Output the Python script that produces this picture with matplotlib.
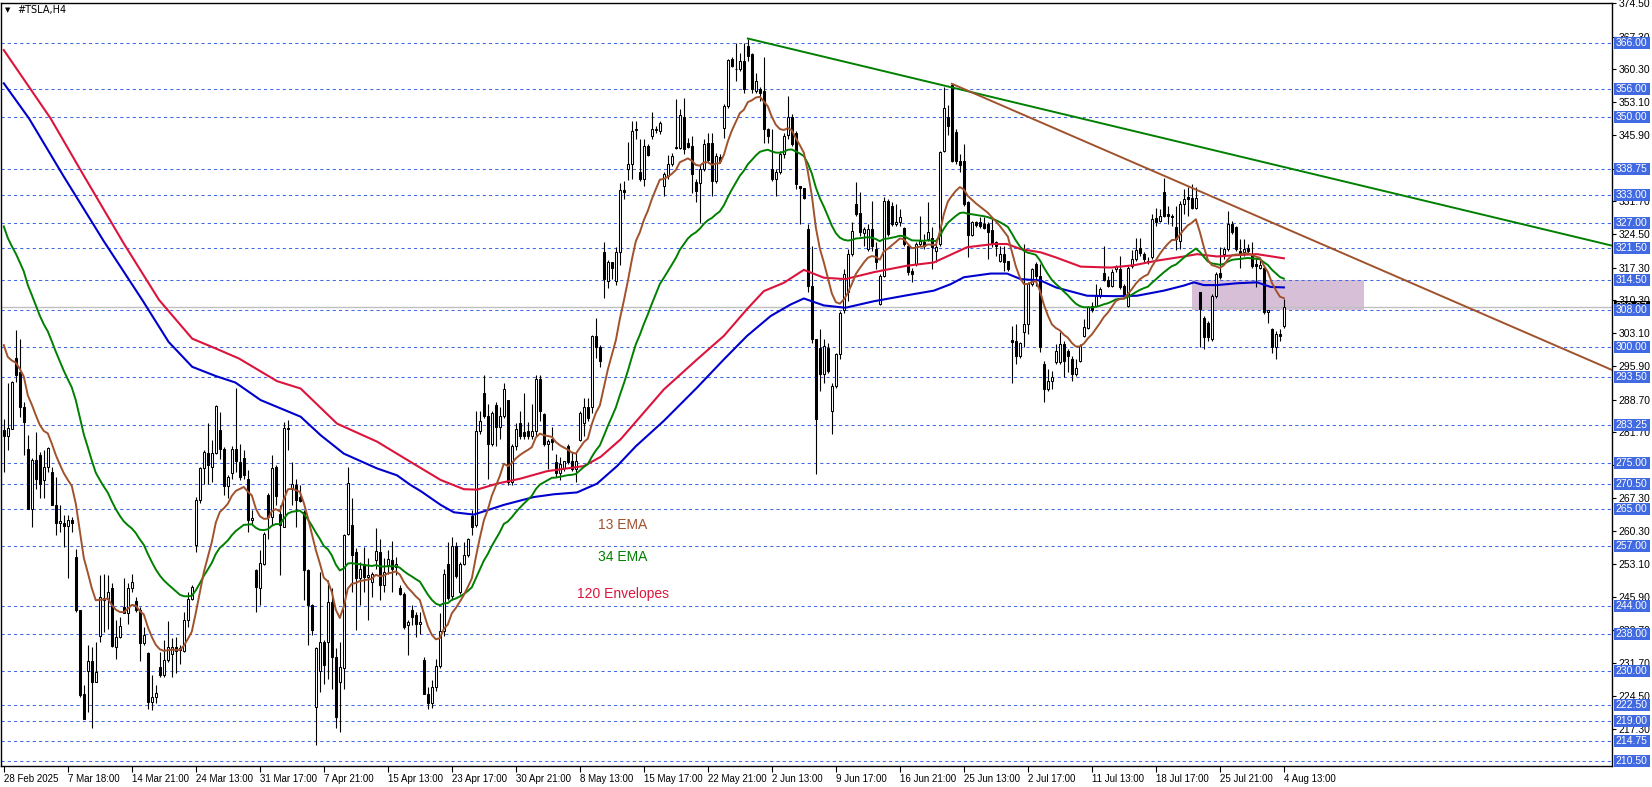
import numpy as np
import matplotlib
matplotlib.use("Agg")
import matplotlib.pyplot as plt
from matplotlib.patches import Rectangle
from matplotlib.transforms import blended_transform_factory

plt.rcParams['font.family'] = 'DejaVu Sans'

# ---- H4 candles, #TSLA (bar index 0 = 28 Feb 2025) ----
open_ = [
    282.1, 280.9, 282.4, 297.8, 294.6, 287.1, 278.1, 265.1, 275.6, 276.8,
    271.2, 274.1, 273.1, 265.8, 261.9, 261.9, 261.3, 262.7, 254.6, 243.1,
    225.0, 230.0, 232.1, 227.6, 237.5, 245.3, 245.6, 247.9, 235.2, 237.3,
    243.8, 242.4, 247.9, 245.0, 243.1, 236.0, 233.9, 223.2, 224.3, 230.8,
    229.0, 232.3, 233.5, 235.2, 234.9, 234.2, 240.9, 245.6, 257.2, 266.9,
    273.8, 277.2, 274.1, 277.2, 282.2, 278.1, 270.0, 272.7, 278.1, 275.1,
    276.1, 271.6, 262.6, 251.8, 247.9, 253.2, 268.1, 263.3, 274.1, 264.0,
    261.1, 282.4, 269.4, 270.3, 267.6, 264.4, 251.8, 244.2, 222.1, 229.9,
    236.2, 236.2, 244.9, 233.0, 227.6, 230.6, 259.7, 261.5, 255.7, 250.0,
    253.2, 250.3, 249.1, 253.9, 255.7, 248.5, 252.8, 253.9, 252.5, 247.9,
    246.7, 239.8, 243.1, 242.0, 240.1, 232.3, 225.0, 223.0, 226.5, 231.0,
    238.5, 253.1, 246.2, 257.0, 247.0, 253.1, 255.1, 263.5, 261.6, 282.0,
    290.1, 285.1, 279.0, 287.6, 282.8, 285.1, 288.6, 270.9, 278.6, 283.6,
    281.7, 281.8, 280.9, 282.0, 293.2, 285.5, 279.0, 280.1, 275.1, 272.8,
    273.9, 278.6, 275.3, 273.6, 280.0, 283.6, 287.2, 287.0, 302.5, 300.2,
    320.6, 314.4, 318.5, 314.4, 320.6, 334.0, 338.7, 339.8, 347.0, 337.9,
    336.4, 343.6, 345.8, 347.1, 346.9, 335.0, 337.1, 339.7, 343.5, 343.3,
    350.0, 344.3, 343.6, 335.8, 335.7, 338.6, 344.3, 344.3, 336.1, 341.3,
    347.6, 352.3, 362.4, 360.4, 360.2, 362.0, 365.3, 363.5, 355.5, 355.9,
    355.5, 347.4, 338.7, 336.4, 337.9, 341.8, 345.9, 350.0, 346.5, 335.0,
    334.6, 325.6, 313.3, 301.8, 299.9, 294.2, 299.9, 286.2, 291.6, 298.5,
    308.0, 312.0, 320.2, 331.1, 329.1, 324.8, 321.3, 325.6, 321.3, 309.4,
    315.5, 331.8, 330.7, 326.7, 327.1, 325.8, 322.0, 316.6, 318.1, 322.4,
    322.8, 323.5, 323.8, 320.9, 322.4, 342.6, 349.8, 356.8, 346.7, 340.4,
    340.4, 331.4, 324.4, 327.1, 327.1, 326.7, 326.7, 325.4, 322.8, 318.8,
    320.2, 318.8, 301.7, 301.5, 298.2, 303.3, 305.1, 313.7, 318.1, 315.5,
    296.5, 291.0, 292.8, 296.8, 296.8, 300.7, 299.3, 297.5, 294.2, 297.1,
    302.5, 304.3, 309.0, 309.0, 311.2, 316.1, 314.7, 313.2, 317.0, 317.0,
    313.4, 309.0, 317.7, 319.1, 321.5, 320.2, 318.8, 319.5, 328.0, 327.4,
    333.6, 328.9, 328.5, 326.0, 323.1, 331.1, 332.5, 332.3, 330.1, 311.9,
    306.3, 305.4, 301.8, 311.2, 316.1, 320.2, 321.3, 326.7, 326.0, 320.9,
    320.6, 321.5, 320.2, 318.1, 317.3, 317.3, 307.6, 304.0, 300.0, 302.9,
    304.7,
]
high = [
    284.6, 292.2, 292.7, 303.7, 301.9, 288.2, 281.0, 276.0, 281.7, 277.4,
    277.7, 278.5, 274.1, 272.0, 265.8, 263.7, 263.7, 263.3, 256.4, 243.2,
    226.8, 235.5, 235.2, 236.2, 250.8, 251.0, 250.7, 248.9, 240.9, 241.6,
    250.0, 248.9, 251.0, 246.0, 243.8, 239.5, 234.1, 229.0, 227.0, 234.1,
    236.6, 240.7, 237.0, 237.3, 235.5, 242.7, 247.1, 248.5, 267.5, 274.1,
    277.7, 283.7, 279.9, 287.5, 286.0, 278.5, 272.3, 278.7, 291.2, 279.0,
    277.7, 273.4, 264.7, 252.1, 256.1, 260.1, 268.4, 276.7, 274.5, 265.8,
    283.9, 284.2, 275.2, 271.6, 270.2, 264.7, 252.1, 244.5, 235.1, 251.4,
    236.6, 249.6, 247.8, 234.8, 236.2, 259.7, 274.1, 267.3, 256.5, 253.6,
    256.8, 254.3, 251.4, 260.8, 258.6, 254.3, 256.1, 258.0, 254.6, 248.5,
    247.1, 240.9, 244.2, 242.7, 242.7, 233.0, 226.5, 228.0, 232.5, 242.4,
    252.0, 257.8, 258.9, 257.8, 253.5, 257.8, 258.7, 264.7, 286.3, 286.3,
    294.0, 287.8, 286.3, 288.2, 287.0, 292.4, 288.6, 279.0, 283.6, 286.3,
    290.1, 283.9, 287.8, 294.0, 294.0, 285.9, 280.1, 282.8, 277.0, 276.3,
    275.5, 279.0, 277.4, 277.4, 286.3, 289.0, 289.0, 302.8, 306.3, 300.5,
    322.9, 319.0, 318.6, 321.7, 335.6, 336.0, 344.4, 349.1, 349.0, 345.1,
    345.1, 344.0, 350.9, 348.0, 349.0, 337.9, 341.6, 342.2, 353.7, 351.6,
    354.1, 345.4, 345.8, 336.4, 339.7, 345.1, 346.5, 346.5, 342.2, 341.8,
    352.7, 362.5, 362.8, 366.0, 363.8, 366.0, 366.9, 363.8, 359.5, 356.3,
    362.8, 347.6, 347.2, 338.6, 342.5, 346.5, 354.5, 350.5, 346.9, 335.0,
    334.6, 326.7, 322.0, 301.8, 303.9, 301.8, 301.0, 292.4, 298.9, 307.9,
    317.0, 321.3, 327.1, 335.8, 333.6, 326.0, 326.7, 331.8, 322.8, 315.9,
    332.5, 332.1, 331.4, 331.1, 330.0, 326.0, 322.4, 317.3, 322.8, 328.5,
    324.6, 331.4, 326.0, 322.8, 342.6, 356.3, 352.4, 357.1, 347.3, 342.0,
    344.1, 331.8, 327.4, 327.4, 328.2, 328.2, 327.1, 327.8, 323.1, 322.0,
    322.0, 318.8, 304.7, 305.1, 301.1, 322.4, 314.1, 317.3, 318.4, 318.1,
    297.0, 295.3, 295.0, 300.7, 303.3, 301.4, 299.6, 298.2, 297.5, 300.7,
    306.1, 309.0, 309.8, 313.7, 313.0, 321.9, 315.5, 317.0, 317.8, 319.9,
    313.7, 317.7, 321.0, 323.8, 323.8, 320.6, 319.5, 328.9, 330.1, 330.0,
    336.8, 330.7, 328.9, 330.7, 331.8, 334.3, 334.7, 335.4, 334.7, 311.9,
    306.9, 305.8, 311.6, 316.3, 321.7, 321.7, 329.6, 327.4, 326.4, 323.5,
    323.5, 322.4, 322.8, 319.1, 319.1, 317.7, 308.0, 304.3, 303.6, 304.0,
    310.5,
]
low = [
    273.1, 277.7, 282.3, 292.5, 285.0, 276.7, 265.1, 261.1, 269.4, 267.3,
    267.3, 273.1, 265.8, 259.3, 260.1, 256.8, 250.1, 260.1, 242.7, 224.3,
    219.5, 221.1, 217.5, 227.6, 236.2, 238.4, 239.1, 235.2, 232.6, 237.0,
    242.4, 240.2, 247.1, 242.7, 232.0, 235.5, 221.8, 221.4, 222.9, 228.7,
    228.7, 231.8, 228.7, 229.4, 231.4, 234.1, 239.5, 245.3, 255.7, 266.4,
    270.5, 270.5, 270.9, 277.0, 275.9, 268.0, 267.3, 271.6, 273.1, 271.2,
    271.6, 260.1, 261.5, 242.7, 244.2, 252.8, 258.6, 261.5, 265.8, 250.7,
    261.1, 277.7, 265.8, 261.1, 266.6, 245.3, 235.5, 237.7, 213.8, 225.4,
    227.2, 228.3, 226.1, 217.5, 216.7, 226.1, 259.3, 247.1, 238.8, 244.2,
    247.1, 240.9, 246.0, 252.1, 245.3, 247.1, 251.0, 247.1, 250.7, 246.3,
    239.1, 233.3, 239.8, 237.3, 238.0, 225.0, 221.8, 222.0, 225.5, 230.5,
    237.5, 245.4, 245.4, 250.1, 246.6, 252.8, 254.7, 259.3, 261.2, 281.3,
    284.7, 271.6, 278.6, 278.6, 280.1, 284.7, 270.1, 270.1, 277.8, 280.1,
    280.1, 280.1, 280.1, 280.9, 284.0, 278.6, 273.6, 277.8, 272.0, 271.3,
    273.2, 274.7, 273.2, 270.9, 279.7, 280.9, 284.0, 285.9, 297.8, 295.7,
    310.8, 312.9, 314.8, 313.6, 317.9, 332.1, 336.2, 336.5, 345.1, 336.1,
    335.0, 341.5, 345.1, 346.5, 346.2, 332.8, 336.4, 339.3, 342.9, 342.9,
    341.8, 343.3, 333.5, 331.4, 327.0, 338.2, 340.0, 332.8, 335.7, 340.0,
    345.4, 351.9, 360.8, 357.7, 359.9, 355.2, 362.0, 355.2, 355.2, 353.4,
    344.3, 344.3, 336.1, 332.8, 337.5, 341.1, 345.1, 343.6, 334.3, 326.7,
    332.1, 311.9, 301.0, 272.5, 290.6, 292.4, 294.5, 281.2, 291.3, 297.4,
    307.5, 310.1, 319.9, 328.5, 324.2, 322.0, 320.9, 320.9, 317.0, 309.2,
    315.2, 324.2, 326.4, 326.4, 326.4, 322.0, 315.7, 314.1, 317.7, 322.0,
    321.3, 323.1, 317.0, 318.4, 322.0, 342.3, 345.9, 340.1, 339.7, 338.0,
    330.7, 319.5, 324.2, 326.0, 325.8, 325.6, 319.1, 321.7, 319.9, 318.4,
    316.6, 316.6, 292.4, 296.4, 297.8, 300.0, 302.9, 313.4, 313.4, 299.0,
    288.1, 290.6, 291.0, 296.4, 296.4, 293.5, 294.6, 292.8, 293.9, 296.8,
    302.2, 304.0, 307.6, 308.7, 310.8, 314.4, 313.0, 313.0, 316.3, 312.6,
    310.8, 308.7, 317.3, 318.8, 319.9, 318.3, 318.1, 319.1, 326.4, 327.1,
    328.2, 326.7, 326.4, 321.0, 321.3, 328.9, 328.5, 330.0, 330.0, 300.0,
    299.6, 301.4, 301.4, 310.8, 314.8, 319.1, 320.9, 324.6, 320.9, 317.3,
    319.9, 320.2, 317.3, 313.0, 317.0, 307.2, 305.4, 298.9, 297.5, 301.4,
    304.3,
]
close = [
    280.9, 282.6, 292.5, 294.0, 287.1, 283.9, 265.1, 275.6, 271.6, 270.5,
    274.1, 278.3, 265.8, 261.9, 262.4, 261.4, 262.7, 261.9, 243.1, 224.7,
    219.6, 232.1, 227.6, 229.6, 246.0, 245.8, 247.1, 235.4, 237.3, 239.7,
    242.4, 247.9, 249.2, 243.1, 236.0, 237.7, 223.2, 224.3, 225.2, 229.0,
    232.3, 235.2, 235.2, 234.2, 234.4, 240.9, 245.6, 248.1, 266.9, 273.8,
    277.4, 274.5, 277.2, 287.3, 278.1, 270.0, 272.0, 278.1, 275.4, 272.0,
    272.3, 262.6, 263.1, 248.1, 253.4, 259.5, 263.3, 273.9, 267.9, 261.5,
    282.6, 282.3, 270.5, 266.9, 266.7, 251.8, 244.2, 238.8, 234.8, 236.1,
    231.2, 244.9, 233.0, 220.0, 230.8, 259.3, 270.7, 255.0, 250.0, 252.1,
    250.3, 250.7, 251.0, 255.9, 248.5, 251.4, 254.1, 252.1, 253.2, 246.7,
    239.5, 240.6, 241.6, 240.2, 240.6, 225.0, 223.0, 226.5, 231.0, 238.5,
    251.0, 245.8, 257.0, 250.4, 253.1, 255.1, 258.5, 261.2, 282.0, 284.0,
    285.1, 279.0, 285.9, 282.8, 285.1, 290.9, 270.9, 278.6, 282.4, 280.9,
    280.9, 280.9, 282.0, 293.2, 286.3, 279.0, 279.7, 279.5, 272.8, 274.7,
    275.3, 275.1, 273.6, 275.5, 285.7, 287.0, 284.7, 302.5, 300.2, 297.1,
    314.8, 318.5, 317.2, 320.6, 334.0, 333.7, 339.8, 346.9, 347.2, 336.4,
    343.6, 341.6, 347.2, 347.2, 348.7, 337.5, 339.7, 341.5, 343.3, 350.3,
    342.9, 343.5, 337.5, 333.9, 338.6, 344.0, 340.6, 336.1, 341.5, 340.4,
    352.3, 362.3, 361.0, 360.2, 362.0, 355.9, 363.1, 355.9, 357.7, 355.2,
    347.2, 345.8, 336.4, 337.9, 341.8, 345.8, 350.0, 344.0, 335.3, 334.6,
    332.4, 313.3, 301.8, 284.4, 294.2, 300.3, 294.9, 291.6, 298.5, 307.5,
    316.0, 320.2, 325.3, 328.9, 324.9, 325.6, 325.6, 322.0, 318.4, 315.5,
    331.8, 324.6, 326.7, 327.1, 328.2, 322.4, 316.3, 315.9, 322.4, 323.1,
    322.0, 325.1, 321.7, 321.7, 342.3, 351.8, 348.0, 340.4, 340.4, 339.5,
    331.1, 324.4, 327.1, 326.5, 326.4, 325.8, 325.1, 322.4, 322.0, 320.2,
    318.4, 317.0, 301.2, 298.2, 301.0, 305.1, 313.7, 317.0, 315.5, 300.0,
    291.0, 292.8, 293.5, 299.3, 300.7, 297.1, 298.2, 294.2, 295.5, 300.4,
    304.5, 308.7, 308.0, 311.2, 312.6, 314.7, 313.2, 316.3, 317.7, 313.0,
    311.2, 317.3, 319.1, 321.0, 320.4, 319.1, 318.4, 327.8, 327.1, 328.5,
    328.5, 328.4, 328.2, 323.5, 331.1, 332.1, 332.1, 330.3, 332.3, 308.3,
    302.2, 302.2, 311.2, 315.9, 315.2, 321.3, 326.7, 325.1, 321.3, 320.2,
    321.3, 320.9, 317.7, 317.7, 317.8, 307.6, 308.0, 300.0, 302.9, 302.5,
    308.7,
]

# EMA values on the first bar
ema13_start = 300.5
ema34_start = 326.2

# 120 envelopes at these bars
env_up_x = [0, 11.7, 20, 30, 38.8, 47.1, 52.9, 58.8, 68.3, 74.2, 83.3, 93.3, 101.7,
            109.2, 115.0, 118.3, 123.3, 129.2, 135.8, 140.8, 145, 149.2, 154.2, 165,
            173.3, 180, 185.8, 190, 195, 200, 205, 210.4, 217.5, 225.8, 232.5, 240.8,
            247.5, 250.8, 254.2, 259.2, 263, 269.2, 276.7, 282.5, 288.3, 295, 298.3,
            303.3, 308.3, 313.3, 320]
env_up_y = [364.4, 349.6, 337.2, 322.5, 310.3, 301.9, 299.8, 297.6, 292.7, 291.1, 283.5,
            279.6, 275.2, 271.3, 269.3, 269.2, 270.5, 271.6, 273.2, 273.8, 274.3, 276.3,
            280.1, 290.9, 297.4, 302.5, 308.3, 312.2, 314.0, 316.8, 315.1, 314.8, 316.3,
            317.7, 318.4, 321.7, 322.4, 322.4, 321.3, 320.6, 319.5, 317.5, 317.3, 317.8,
            318.8, 319.7, 320.2, 319.7, 320.0, 320.2, 319.3]
env_lo_x = [0, 6.3, 15, 25, 34.6, 41.2, 47.1, 53, 57.9, 64.2, 69.2, 74.2, 79.2, 85, 93.3,
            98.3, 101.7, 104.2, 109.2, 112.5, 117.5, 125, 132.5, 137.5, 143.3, 148.3,
            153.3, 158, 165, 173.3, 180, 185.8, 191.7, 196.7, 200, 205, 210.4, 217.5,
            225.8, 232.5, 236.7, 240, 246.7, 250.8, 254.2, 259.2, 263, 270.8, 278.3,
            283.3, 290, 295, 297.5, 300, 303.3, 308.3, 313.3, 316.7, 320]
env_lo_y = [357.2, 349.6, 337.0, 323.0, 310.3, 301.2, 295.8, 293.8, 292.4, 288.6, 286.8,
            285.0, 281.0, 277.0, 273.8, 272.3, 270.2, 268.9, 265.9, 264.3, 263.8, 265.9,
            267.6, 268.2, 268.6, 270.5, 274.3, 278.6, 284.1, 291.3, 297.4, 302.5, 306.8,
            309.3, 310.6, 309.1, 308.6, 310.0, 311.3, 312.3, 313.7, 315.2, 316.0, 316.0,
            314.8, 314.5, 313.0, 311.2, 311.1, 311.2, 312.3, 313.4, 314.1, 313.5, 313.5,
            313.9, 314.1, 313.1, 313.0]

# trend lines: two anchor points each (bar, price), drawn as rays to the right
green_trend = [(186, 366.9), (311.7, 340.8)]
brown_trend = [(237, 357.1), (280.4, 340.8)]

# support / resistance levels and the marked zone
levels = [366.00, 356.00, 350.00, 338.75, 333.00, 327.00, 321.50, 314.50, 308.00,
          300.00, 293.50, 283.25, 275.00, 270.50, 265.00, 257.00, 244.00, 238.00,
          230.00, 222.50, 219.00, 214.75, 210.50]
zone_bars = (297, 340)
zone_prices = (308.0, 314.5)
bid = 308.67

price_ticks = [374.5, 367.3, 360.3, 353.1, 345.9, 338.7, 331.7, 324.5, 317.3, 310.3,
               303.1, 295.9, 288.7, 281.7, 274.5, 267.3, 260.3, 253.1, 245.9, 238.7,
               231.7, 224.5, 217.3]
time_labels = ['28 Feb 2025', '7 Mar 18:00', '14 Mar 21:00', '24 Mar 13:00', '31 Mar 17:00',
               '7 Apr 21:00', '15 Apr 13:00', '23 Apr 17:00', '30 Apr 21:00', '8 May 13:00',
               '15 May 17:00', '22 May 21:00', '2 Jun 13:00', '9 Jun 17:00', '16 Jun 21:00',
               '25 Jun 13:00', '2 Jul 17:00', '11 Jul 13:00', '18 Jul 17:00', '25 Jul 21:00',
               '4 Aug 13:00']
label_every = 16

captions = ['13 EMA', '34 EMA', '120 Envelopes']
caption_colors = ['#A0522D', '#008000', '#DC143C']
caption_prices = [261.6, 254.6, 246.6]


def ema(values, period, start):
    out = [start]
    a = 2.0 / (period + 1)
    for v in values[1:]:
        out.append(out[-1] + a * (v - out[-1]))
    return np.array(out)


o = np.array(open_)
h = np.array(high)
l = np.array(low)
c = np.array(close)
idx = np.arange(len(c))

W, H = 1652, 787
AXW = 1611
fig = plt.figure(figsize=(W / 100, H / 100), dpi=100, facecolor='white')
ax = fig.add_axes([0.5 / W, 1 - 766 / H, AXW / W, (766 - 2.7) / H])
ax.set_facecolor('white')
ax.set_xlim(-0.825, 401.9)
ax.set_ylim(209.35, 374.66)
px = (374.66 - 209.35) / (766 - 2.7)   # price per pixel

# levels, zone, bid line
for lv in levels:
    ax.axhline(lv, color='#4169E1', lw=0.75, ls=(0, (3, 3)), zorder=1.5)
ax.add_patch(Rectangle((zone_bars[0], zone_prices[0]), zone_bars[1] - zone_bars[0],
                       zone_prices[1] - zone_prices[0], facecolor='#D8BFD8',
                       edgecolor='none', zorder=1))
ax.axhline(bid, color='#C0C0C0', lw=1, zorder=1.2)

# candles
up = c >= o
ax.vlines(idx, l, h, color='black', lw=0.8, zorder=3)
body = np.maximum(np.abs(c - o), 0.15)
ax.bar(idx[up], body[up], bottom=np.minimum(o, c)[up], width=0.6,
       color='white', edgecolor='black', linewidth=0.75, zorder=3.1)
ax.bar(idx[~up], body[~up], bottom=np.minimum(o, c)[~up], width=0.6,
       color='black', edgecolor='black', linewidth=0.75, zorder=3.1)

# indicators
ax.plot(env_up_x, env_up_y, color='#DC143C', lw=1.5, zorder=4)
ax.plot(env_lo_x, env_lo_y, color='#0000CD', lw=1.5, zorder=4)
ax.plot(idx, ema(close, 34, ema34_start), color='#008000', lw=1.4, zorder=4.1)
ax.plot(idx, ema(close, 13, ema13_start), color='#A0522D', lw=1.4, zorder=4.2)

x_end = ax.get_xlim()[1]
for (p1, p2), col in [(green_trend, '#008000'), (brown_trend, '#A0522D')]:
    slope = (p2[1] - p1[1]) / (p2[0] - p1[0])
    ax.plot([p1[0], x_end], [p1[1], p1[1] + slope * (x_end - p1[0])],
            color=col, lw=1.4, zorder=4.3)

# indicator captions
for txt, col, yv in zip(captions, caption_colors, caption_prices):
    ax.text(154.7, yv, txt, color=col, fontsize=10, family='Liberation Sans',
            ha='center', va='center')

# axes look
for sp in ax.spines.values():
    sp.set_color('black')
    sp.set_linewidth(1)

ax.yaxis.tick_right()
ax.set_yticks(price_ticks)
ax.set_yticklabels([f'{v:.2f}' for v in price_ticks], family='Liberation Sans')
ax.tick_params(axis='y', length=3, width=0.8, pad=2, labelsize=7.5, colors='black')

ticks = list(range(0, len(c), label_every))
ax.set_xticks(ticks)
ax.set_xticklabels(time_labels[:len(ticks)], family='Liberation Sans')
ax.tick_params(axis='x', length=4, width=0.8, pad=2, labelsize=7, colors='black')
for lbl in ax.get_xticklabels():
    lbl.set_ha('left')

# price boxes on the right scale
tr = blended_transform_factory(ax.transAxes, ax.transData)
box_x0 = 1613 / AXW
box_w = 36 / AXW
box_h = 12 * px


def price_box(value, face, z):
    ax.add_patch(Rectangle((box_x0, value - box_h / 2), box_w, box_h, transform=tr,
                           facecolor=face, edgecolor='none', clip_on=False, zorder=z))
    ax.text(box_x0 + box_w / 2, value, f'{value:.2f}', transform=tr, color='white',
            fontsize=7.5, family='Liberation Sans', ha='center', va='center',
            clip_on=False, zorder=z + 0.1)


price_box(bid, 'black', 5)
for lv in levels:
    price_box(lv, '#4169E1', 6)

# chart title
fig.text(5 / W, 1 - 10 / H, '\u25bc', fontsize=5, va='center', ha='left')
fig.text(17 / W, 1 - 10 / H, '#TSLA,H4', fontsize=7, va='center', ha='left')

fig.savefig('out.png', dpi=100, facecolor='white')
